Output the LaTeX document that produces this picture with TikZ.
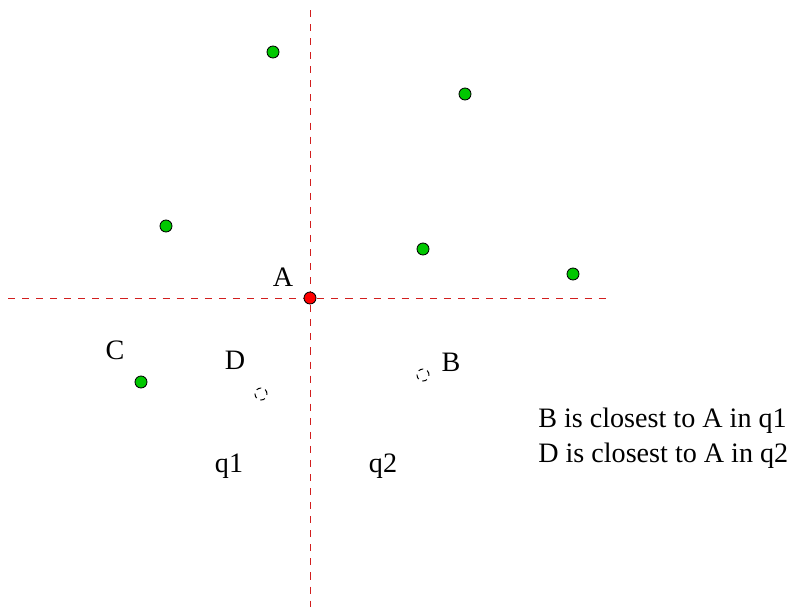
\documentclass[tikz,border=0pt]{standalone}
\usepackage{fontspec}
\setmainfont{Liberation Serif}
\usepackage{tikz}
\usetikzlibrary{positioning}
\definecolor{ptgreen}{RGB}{0,200,0}
\definecolor{ptred}{RGB}{255,0,0}
\definecolor{axisred}{RGB}{210,30,30}
\tikzset{
  pt/.style={circle, draw=black, fill=ptgreen, line width=0.6pt,
    minimum size=0.3cm, inner sep=0pt},
  query/.style={pt, fill=ptred},
  hole/.style={circle, draw=black, dash pattern=on 3.5pt off 3pt,
    line width=0.7pt, minimum size=0.3cm, inner sep=0pt},
  axis/.style={dash pattern=on 5pt off 5pt, color=axisred, line width=0.6pt},
  lbl/.style={font=\fontsize{20}{24}\selectfont, inner sep=0pt}
}

\begin{document}
\begin{tikzpicture}[x=0.025cm, y=-0.025cm]
    \useasboundingbox (0,0) rectangle (795,607);

    % quadrant axes through A
    \coordinate (west) at (8,298);
    \coordinate (east) at (610,298);
    \coordinate (north) at (310,10);
    \coordinate (south) at (310,607);
    \draw[axis] (west) -- (east);
    \draw[axis] (north) -- (south);

    % points
    \node[pt] (p1) at (273,52) {};
    \node[pt] (p2) at (465,94) {};
    \node[pt] (p3) at (166,226) {};
    \node[pt] (p4) at (423,249) {};
    \node[pt] (p5) at (573,274) {};
    \node[pt] (ptC) at (141,382) {};
    \node[query] (ptA) at (310,298) {};

    % removed points
    \node[hole] (ptD) at (261,394) {};
    \node[hole] (ptB) at (423,375) {};

    % labels
    \node[lbl] (labA) at (283,277) {A};
    \node[lbl] (labC) at (115,350) {C};
    \node[lbl] (labD) at (235,360) {D};
    \node[lbl] (labB) at (451,362) {B};
    \node[lbl] (q1) at (229,466) {q1};
    \node[lbl] (q2) at (383,466) {q2};

    % remarks
    \node[lbl, anchor=west] (noteB) at (538,421) {B is closest to A in q1};
    \node[lbl, anchor=west] (noteD) at (538,456) {D is closest to A in q2};
\end{tikzpicture}
\end{document}
